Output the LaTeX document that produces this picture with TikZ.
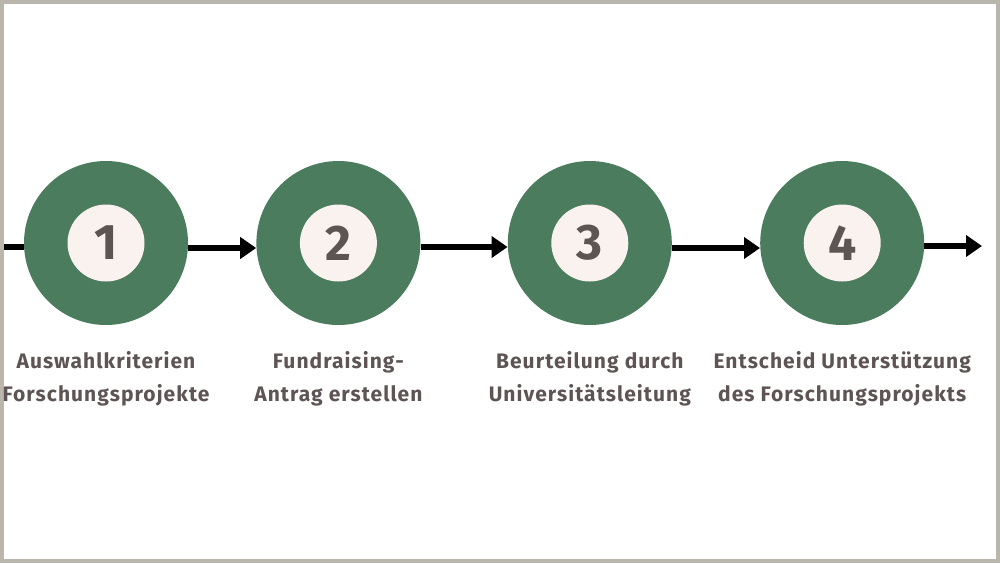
\documentclass[tikz,border=0pt]{standalone}
\usepackage{fontspec}
\setmainfont{Fira Sans}
\usepackage{xcolor}
\usetikzlibrary{positioning,arrows.meta}

\definecolor{stepgreen}{HTML}{4A7C5D}
\definecolor{stepcore}{HTML}{F9F2EF}
\definecolor{steptext}{HTML}{5E5454}
\definecolor{frame}{HTML}{BAB6AE}

\begin{document}
\begin{tikzpicture}[
    x=1pt, y=-1pt,
    >={Triangle[length=16pt,width=21pt]},
    ring/.style={
        circle,
        fill=stepgreen,
        minimum size=164pt,
        inner sep=0pt
    },
    core/.style={
        circle,
        fill=stepcore,
        minimum size=77pt,
        inner sep=0pt,
        text=steptext,
        font=\fontsize{50}{50}\selectfont\bfseries
    },
    caption/.style={
        align=center,
        text=steptext,
        inner sep=0pt,
        font=\fontsize{21}{33}\selectfont\bfseries\addfontfeatures{LetterSpace=5}
    },
    arrow/.style={->, line width=5.5pt}
]
% frame and background
\fill[frame] (0,0) rectangle (1000,563);
\fill[white] (4,4) rectangle (996,559);
\useasboundingbox (0,0) rectangle (1000,563);

\node[ring] (step1) at (106,243) {};
\node[ring, right=68pt of step1] (step2) {};
\node[ring, right=87pt of step2] (step3) {};
\node[ring, right=88pt of step3] (step4) {};

\node[core] (num1) at (step1) {1};
\node[core] (num2) at (step2) {2};
\node[core] (num3) at (step3) {3};
\node[core] (num4) at (step4) {4};

\coordinate (start) at (4,247);
\coordinate (finish) at (982,246);

\draw[arrow, -] (start) -- ([yshift=-4pt]step1.west);
\draw[arrow] ([yshift=-5pt]step1.east) -- ([yshift=-5pt]step2.west);
\draw[arrow] ([yshift=-4pt]step2.east) -- ([yshift=-4pt]step3.west);
\draw[arrow] ([yshift=-5pt]step3.east) -- ([yshift=-5pt]step4.west);
\draw[arrow] ([yshift=-3pt]step4.east) -- (finish);

\node[caption, below=26pt of step1] (text1) {Auswahlkriterien\\Forschungsprojekte};
\node[caption, below=26pt of step2] (text2) {Fundraising-\\Antrag erstellen};
\node[caption, below=26pt of step3] (text3) {Beurteilung durch\\Universitätsleitung};
\node[caption, below=26pt of step4] (text4) {Entscheid Unterstützung\\des Forschungsprojekts};
\end{tikzpicture}
\end{document}
